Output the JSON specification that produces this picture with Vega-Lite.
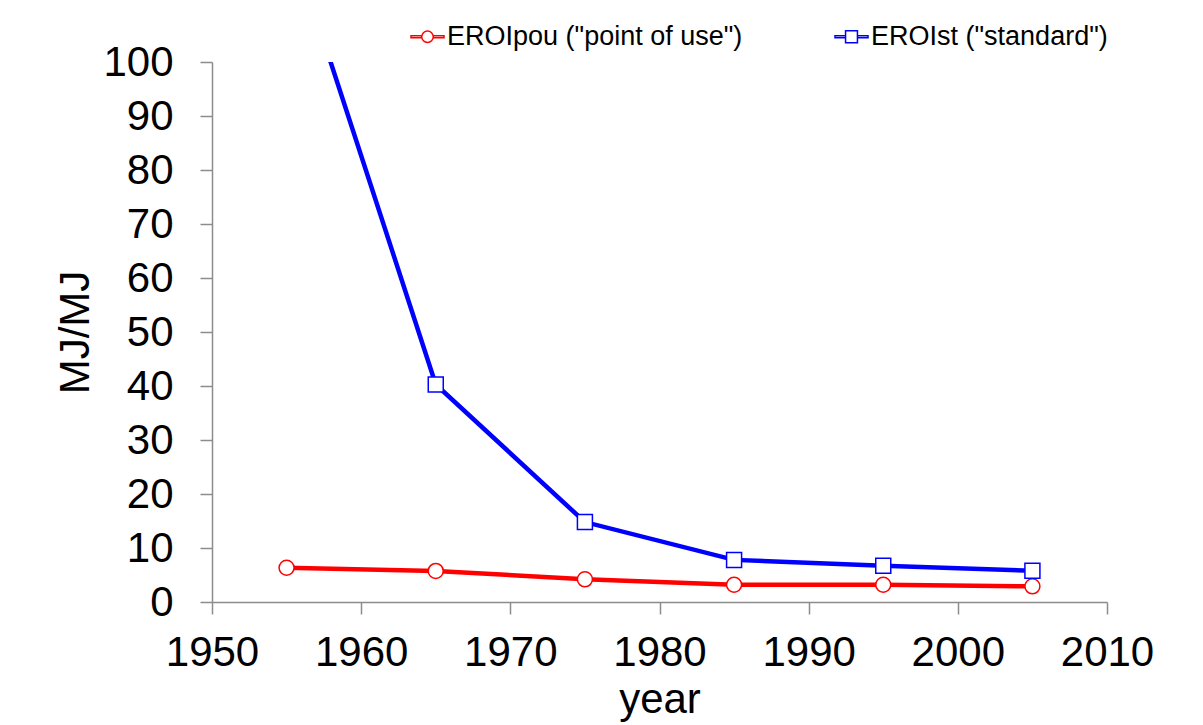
{
  "$schema": "https://vega.github.io/schema/vega-lite/v6.json",
  "width": 895,
  "height": 540,
  "autosize": {"type": "none"},
  "padding": {"left": 212, "top": 62, "right": 96, "bottom": 123},
  "background": "white",
  "config": {
    "view": {"stroke": null},
    "font": "Liberation Sans",
    "axis": {
      "grid": false,
      "labelFlush": false,
      "labelOverlap": false,
      "domainColor": "#8c8c8c",
      "domainWidth": 1.5,
      "tickColor": "#8c8c8c",
      "tickWidth": 1.5,
      "tickSize": 12,
      "labelFont": "Liberation Sans",
      "labelFontSize": 42,
      "labelColor": "black",
      "titleFont": "Liberation Sans",
      "titleFontSize": 42,
      "titleFontWeight": "normal",
      "titleColor": "black"
    },
    "legend": {
      "labelFont": "Liberation Sans",
      "labelFontSize": 27,
      "labelColor": "black",
      "labelLimit": 1000
    }
  },
  "data": {
    "values": [
      {"year": 1955, "series": "EROIpou (\"point of use\")", "value": 6.35},
      {"year": 1965, "series": "EROIpou (\"point of use\")", "value": 5.75},
      {"year": 1975, "series": "EROIpou (\"point of use\")", "value": 4.2},
      {"year": 1985, "series": "EROIpou (\"point of use\")", "value": 3.2},
      {"year": 1995, "series": "EROIpou (\"point of use\")", "value": 3.2},
      {"year": 2005, "series": "EROIpou (\"point of use\")", "value": 2.9},
      {"year": 1955, "series": "EROIst (\"standard\")", "value": 125},
      {"year": 1965, "series": "EROIst (\"standard\")", "value": 40.3},
      {"year": 1975, "series": "EROIst (\"standard\")", "value": 14.8},
      {"year": 1985, "series": "EROIst (\"standard\")", "value": 7.8},
      {"year": 1995, "series": "EROIst (\"standard\")", "value": 6.7},
      {"year": 2005, "series": "EROIst (\"standard\")", "value": 5.8}
    ]
  },
  "encoding": {
    "x": {
      "field": "year",
      "type": "quantitative",
      "scale": {"domain": [1950, 2010], "nice": false, "zero": false},
      "axis": {
        "values": [1950, 1960, 1970, 1980, 1990, 2000, 2010],
        "format": "d",
        "labelPadding": 18,
        "title": "year",
        "titlePadding": 6
      }
    },
    "y": {
      "field": "value",
      "type": "quantitative",
      "scale": {"domain": [0, 100], "nice": false},
      "axis": {
        "values": [0, 10, 20, 30, 40, 50, 60, 70, 80, 90, 100],
        "labelPadding": 27,
        "title": "MJ/MJ",
        "titlePadding": 5
      }
    }
  },
  "layer": [
    {
      "transform": [{"filter": "datum.value > 100"}],
      "mark": {"type": "point", "filled": false, "fill": "white", "opacity": 1, "strokeWidth": 1.5, "clip": true},
      "encoding": {
        "stroke": {
          "field": "series",
          "type": "nominal",
          "scale": {"domain": ["EROIpou (\"point of use\")", "EROIst (\"standard\")"], "range": ["#ff0000", "#0000ff"]},
          "legend": {
            "title": null,
            "orient": "none",
            "direction": "horizontal",
            "legendX": 198,
            "legendY": -43,
            "padding": 0,
            "symbolSize": 1089,
            "symbolStrokeWidth": 1.5,
            "symbolFillColor": "white",
            "symbolOpacity": 1,
            "labelOffset": 2,
            "columnPadding": 89
          }
        },
        "shape": {
          "field": "series",
          "type": "nominal",
          "scale": {
            "domain": ["EROIpou (\"point of use\")", "EROIst (\"standard\")"],
            "range": [
              "M -0.35 0 A 0.35 0.35 0 1 0 0.35 0 A 0.35 0.35 0 1 0 -0.35 0 Z M -1 -0.06 L -0.35 -0.06 L -0.35 0.06 L -1 0.06 Z M 0.35 -0.06 L 1 -0.06 L 1 0.06 L 0.35 0.06 Z",
              "M -0.36 -0.36 L 0.36 -0.36 L 0.36 0.36 L -0.36 0.36 Z M -1 -0.06 L -0.36 -0.06 L -0.36 0.06 L -1 0.06 Z M 0.36 -0.06 L 1 -0.06 L 1 0.06 L 0.36 0.06 Z"
            ]
          },
          "legend": {
            "title": null,
            "orient": "none",
            "direction": "horizontal",
            "legendX": 198,
            "legendY": -43,
            "padding": 0,
            "symbolSize": 1089,
            "symbolStrokeWidth": 1.5,
            "symbolFillColor": "white",
            "symbolOpacity": 1,
            "labelOffset": 2,
            "columnPadding": 89
          }
        }
      }
    },
    {
      "mark": {"type": "line", "strokeWidth": 4.5, "clip": true},
      "encoding": {
        "color": {
          "field": "series",
          "type": "nominal",
          "scale": {"domain": ["EROIpou (\"point of use\")", "EROIst (\"standard\")"], "range": ["#ff0000", "#0000ff"]},
          "legend": null
        }
      }
    },
    {
      "transform": [{"filter": "datum.series == 'EROIpou (\"point of use\")'"}],
      "mark": {"type": "point", "shape": "circle", "filled": false, "fill": "white", "fillOpacity": 1, "opacity": 1, "stroke": "#ff0000", "strokeWidth": 1.5, "size": 225, "clip": true}
    },
    {
      "transform": [{"filter": "datum.series == 'EROIst (\"standard\")'"}],
      "mark": {"type": "point", "shape": "square", "filled": false, "fill": "white", "fillOpacity": 1, "opacity": 1, "stroke": "#0000ff", "strokeWidth": 1.5, "size": 225, "clip": true}
    }
  ]
}
